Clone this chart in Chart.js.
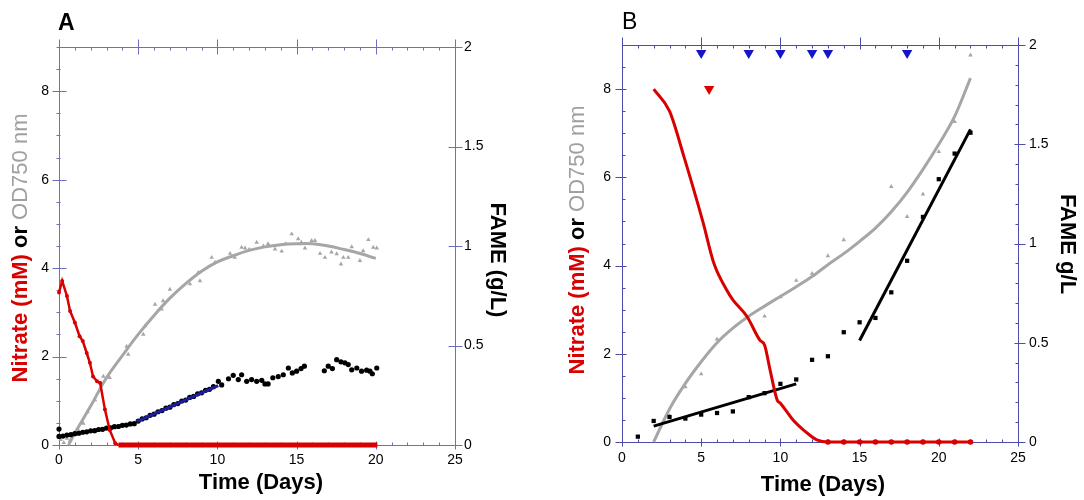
<!DOCTYPE html>
<html>
<head>
<meta charset="utf-8">
<script src="https://cdn.jsdelivr.net/npm/chart.js@4.4.0/dist/chart.umd.min.js"></script>
<style>
  html, body { margin: 0; padding: 0; background: #fff; }
  #wrap { position: relative; width: 1084px; height: 500px; }
  canvas { position: absolute; top: 0; }
  #chartA { left: 0; }
  #chartB { left: 542px; }
</style>
</head>
<body>
<div id="wrap">
  <canvas id="chartA" width="542" height="500"></canvas>
  <canvas id="chartB" width="542" height="500"></canvas>
</div>
<script>
// ---- Panel A ----
const daysA_nitrate = [0, 0.2, 0.5, 0.7, 1.0, 1.3, 1.5, 1.75, 1.95, 2.15, 2.4, 2.6, 2.9, 3.2, 3.55, 3.75, 5, 7.5, 10, 12.5, 15, 17.5, 20.1];
const nitrateA = [3.45, 3.71, 3.37, 3.03, 2.77, 2.46, 2.35, 2.08, 1.86, 1.55, 1.44, 1.40, 0.8, 0.34, 0.04, 0, 0, 0, 0, 0, 0, 0, 0];

const daysA_odFit = [0.6, 1, 2, 3, 4, 5, 6, 7, 8, 9, 10, 11, 12, 13, 14, 15, 16, 17, 18, 19, 20];
const odFitA = [0, 0.27, 0.88, 1.52, 2.02, 2.5, 2.93, 3.32, 3.65, 3.93, 4.14, 4.28, 4.4, 4.48, 4.53, 4.55, 4.55, 4.5, 4.42, 4.33, 4.22];

const daysA_od = [0.1, 0.3, 0.5, 0.7, 1.2, 1.53, 1.8, 2.27, 2.8, 3.2, 4.27, 4.37, 5.32, 5.43, 6.06, 6.48, 6.57, 7.0, 8.27, 8.79, 8.9, 9.64, 9.85,
  10.8, 11.1, 11.53, 11.75, 12.0, 12.48, 12.9, 13.2, 13.64, 14.06, 14.3, 14.69, 15.1, 15.3, 15.53, 15.95, 16.16, 16.48, 16.79,
  17.2, 17.53, 17.8, 17.95, 18.26, 18.48, 19.0, 19.2, 19.53, 19.84, 20.06];
const odA = [0.12, 0.05, 0.15, 0.1, 0.35, 0.49, 0.75, 1.02, 1.55, 1.52, 2.23, 2.05, 2.5, 2.69, 3.18, 3.07, 3.26, 3.52, 3.64, 3.9, 3.71, 4.24, 4.13,
  4.33, 4.24, 4.47, 4.45, 4.42, 4.58, 4.5, 4.55, 4.43, 4.38, 4.55, 4.77, 4.66, 4.58, 4.45, 4.62, 4.62, 4.33, 4.24,
  4.36, 4.32, 4.09, 4.24, 4.24, 4.48, 4.17, 4.39, 4.64, 4.47, 4.45];

const daysA_fame = [0, 0, 0.25, 0.5, 0.75, 1, 1.25, 1.5, 1.75, 2, 2.25, 2.5, 2.75, 3, 3.25, 3.5, 3.75, 4, 4.25, 4.5, 4.75,
  5, 5.25, 5.5, 5.75, 6, 6.25, 6.5, 6.75, 7, 7.25, 7.5, 7.75, 8, 8.25, 8.5, 8.75, 9, 9.25, 9.5, 9.75,
  10.06, 10.27, 10.7, 11.0, 11.32, 11.53, 11.85, 12.16, 12.48, 12.8, 13.0, 13.2, 13.5, 13.84, 14.16, 14.48, 14.73, 15.0, 15.28, 15.49,
  16.75, 17.0, 17.26, 17.53, 17.8, 18.05, 18.26, 18.48, 18.8, 19.1, 19.42, 19.63, 19.78, 20.06];
const fameA = [0.08, 0.043, 0.045, 0.05, 0.052, 0.057, 0.059, 0.064, 0.066, 0.071, 0.072, 0.078, 0.079, 0.085, 0.086, 0.092, 0.093, 0.099, 0.1, 0.106, 0.107,
  0.12, 0.131, 0.137, 0.149, 0.155, 0.167, 0.173, 0.185, 0.19, 0.203, 0.208, 0.221, 0.226, 0.239, 0.244, 0.257, 0.262, 0.275, 0.28, 0.293,
  0.32, 0.302, 0.333, 0.35, 0.329, 0.353, 0.32, 0.329, 0.32, 0.325, 0.307, 0.307, 0.338, 0.344, 0.353, 0.387, 0.362, 0.371, 0.384, 0.396,
  0.373, 0.396, 0.384, 0.429, 0.418, 0.413, 0.404, 0.378, 0.387, 0.371, 0.376, 0.371, 0.358, 0.387];

const daysA_fit1 = [0, 4.8];
const fameFitA1 = [0.042, 0.109];
const daysA_fit2 = [4.9, 10.05];
const fameFitA2 = [0.118, 0.298];

// ---- Panel B ----
const daysB_nitrate = [2, 3, 3.9, 5.1, 5.8, 6.6, 7.0, 7.9, 8.7, 9.0, 9.35, 9.8, 10.0, 10.8, 11.7, 12.3, 13, 14, 15, 16, 17, 18, 19, 20, 21, 22];
const nitrateB = [8.0, 7.5, 6.48, 5.0, 4.05, 3.45, 3.22, 2.84, 2.31, 2.2, 1.63, 0.95, 0.88, 0.5, 0.2, 0.05, 0, 0, 0, 0, 0, 0, 0, 0, 0, 0];

const daysB_odFit = [2, 3, 4, 5, 6, 7, 8, 9, 10, 11, 12, 13, 14, 15, 16, 17, 18, 19, 20, 21, 22];
const odFitB = [0, 0.75, 1.33, 1.82, 2.25, 2.58, 2.85, 3.08, 3.3, 3.52, 3.75, 4.02, 4.27, 4.55, 4.85, 5.22, 5.66, 6.18, 6.75, 7.38, 8.25];

const daysB_od = [3, 4, 5, 6, 9, 10, 11, 12, 13, 14, 17, 18, 19, 20, 21, 22];
const odB = [0.59, 1.25, 1.54, 2.33, 2.85, 3.29, 3.66, 3.82, 4.22, 4.58, 5.79, 5.11, 5.62, 6.58, 7.26, 8.77];

const daysB_fame = [1, 2, 3, 4, 5, 6, 7, 8, 9, 10, 11, 12, 13, 14, 15, 16, 17, 18, 19, 20, 21, 22];
const fameB = [0.027, 0.106, 0.126, 0.118, 0.138, 0.146, 0.154, 0.226, 0.246, 0.293, 0.315, 0.414, 0.432, 0.553, 0.603, 0.625, 0.754, 0.913, 1.134, 1.324, 1.453, 1.558];

const daysB_fit1 = [2, 11];
const fameFitB1 = [0.08, 0.293];
const daysB_fit2 = [15, 22];
const fameFitB2 = [0.511, 1.575];

const daysB_blueMarks = [5, 8, 10, 12, 13, 18];
const blueMarksB = [8.82, 8.82, 8.82, 8.82, 8.82, 8.82];
const daysB_redMark = [5.5];
const redMarkB = [8.0];

const FONT = "Arial, 'Liberation Sans', Helvetica, sans-serif";
const RED = '#d90000';
const GRAY = '#a6a6a6';

const pts = (xs, ys) => xs.map((x, i) => ({ x, y: ys[i] }));

// axis frame with major/minor tick marks, positioned from the chart's scales
const framePlugin = {
    id: 'frame',
    beforeDatasetsDraw(chart, args, o) {
        const { ctx, chartArea: a } = chart;
        const px = v => Math.round(v) + 0.5;
        const L = px(a.left), R = px(a.right), T = px(a.top), B = px(a.bottom);
        ctx.save();
        ctx.strokeStyle = o.color;
        ctx.lineWidth = 1;
        ctx.strokeRect(L, T, R - L, B - T);
        const line = (x1, y1, x2, y2) => { ctx.beginPath(); ctx.moveTo(x1, y1); ctx.lineTo(x2, y2); ctx.stroke(); };
        const marks = (side, scale, spec) => {
            if (!spec) return;
            const [step, lenIn, lenOut] = spec;
            const n = Math.floor((scale.max - scale.min) / step + 1e-6);
            for (let i = 0; i <= n; i++) {
                const p = px(scale.getPixelForValue(scale.min + i * step));
                if (side === 'bottom') line(p, B - lenIn, p, B + lenOut);
                if (side === 'top') line(p, T + lenIn, p, T - lenOut);
                if (side === 'left') line(L + lenIn, p, L - lenOut, p);
                if (side === 'right') line(R - lenIn, p, R + lenOut, p);
            }
        };
        const s = chart.scales;
        marks('bottom', s.x, o.bottom.minor); marks('bottom', s.x, o.bottom.major);
        marks('top', s.x, o.top.minor); marks('top', s.x, o.top.major);
        marks('left', s.y, o.left.minor); marks('left', s.y, o.left.major);
        marks('right', s.y1, o.right.minor); marks('right', s.y1, o.right.major);
        ctx.restore();
    }
};

// multi-coloured axis titles and panel letters
const titlesPlugin = {
    id: 'titles',
    afterDraw(chart, args, o) {
        const { ctx } = chart;
        o.items.forEach(item => {
            ctx.save();
            ctx.translate(item.x, item.y);
            ctx.rotate(item.rot || 0);
            ctx.textBaseline = 'middle';
            ctx.textAlign = 'left';
            let total = 0;
            const widths = item.parts.map(p => {
                ctx.font = p.font;
                const w = ctx.measureText(p.text).width;
                total += w;
                return w;
            });
            let cx = item.align === 'left' ? 0 : -total / 2;
            item.parts.forEach((p, i) => {
                ctx.font = p.font;
                ctx.fillStyle = p.color;
                ctx.fillText(p.text, cx, 0);
                cx += widths[i];
            });
            ctx.restore();
        });
    }
};

function makeOptions(cfg) {
    const tickFont = { family: FONT, size: 14 };
    return {
        responsive: false,
        animation: false,
        layout: { padding: { top: cfg.top, left: 0, right: 0, bottom: 0 } },
        elements: { point: { hoverRadius: 0, borderWidth: 0 } },
        plugins: {
            legend: { display: false },
            tooltip: { enabled: false },
            frame: cfg.frame,
            titles: { items: cfg.titles },
        },
        scales: {
            x: {
                type: 'linear', position: 'bottom', min: 0, max: 25,
                grid: { display: false, drawTicks: false }, border: { display: false },
                ticks: { stepSize: 5, padding: cfg.xPad, color: '#000', font: tickFont, maxRotation: 0 },
                afterFit: s => { s.height = cfg.bottom; },
            },
            y: {
                type: 'linear', position: 'left', min: 0, max: 9,
                grid: { display: false, drawTicks: false }, border: { display: false },
                ticks: { stepSize: 2, includeBounds: false, padding: cfg.yPad, color: '#000', font: tickFont },
                afterFit: s => { s.width = cfg.left; },
            },
            y1: {
                type: 'linear', position: 'right', min: 0, max: 2,
                grid: { display: false, drawTicks: false }, border: { display: false },
                ticks: { stepSize: 0.5, padding: cfg.y1Pad, color: '#000', font: tickFont, callback: v => String(v) },
                afterFit: s => { s.width = cfg.right; },
            },
        },
    };
}

const boldT = `bold 22px ${FONT}`;
const normT = `22px ${FONT}`;

// ---- Chart A ----
new Chart(document.getElementById('chartA'), {
    type: 'scatter',
    data: {
        datasets: [
            {
                data: pts(daysA_nitrate, nitrateA), yAxisID: 'y', showLine: true,
                borderColor: RED, backgroundColor: RED, borderWidth: 2.5, pointBorderWidth: 0,
                pointRadius: ctx => (ctx.raw && ctx.raw.y === 0 ? 0 : 2),
                segment: { borderWidth: ctx => (ctx.p0.parsed.y === 0 && ctx.p1.parsed.y === 0 ? 5 : 2.5) },
                clip: false,
            },
            {
                data: pts(daysA_fit2, fameFitA2), yAxisID: 'y1', showLine: true,
                borderColor: '#1c1c9c', borderWidth: 3, pointRadius: 0, clip: false,
            },
            {
                data: pts(daysA_fame, fameA), yAxisID: 'y1',
                backgroundColor: '#000', borderColor: '#000', pointRadius: 2.6, pointBorderWidth: 0, clip: false,
            },
            {
                data: pts(daysA_fit1, fameFitA1), yAxisID: 'y1', showLine: true,
                borderColor: '#000', borderWidth: 3, pointRadius: 0, clip: false,
            },
            {
                data: pts(daysA_od, odA), yAxisID: 'y', pointStyle: 'triangle',
                backgroundColor: GRAY, borderColor: GRAY, pointRadius: 2.6, pointBorderWidth: 0, clip: false,
            },
            {
                data: pts(daysA_odFit, odFitA), yAxisID: 'y', showLine: true,
                borderColor: GRAY, borderWidth: 3, pointRadius: 0, tension: 0.4, clip: false,
            },
        ],
    },
    options: makeOptions({
        top: 47, bottom: 55, left: 59, right: 87, xPad: 7, yPad: 10, y1Pad: 9,
        frame: {
            color: '#6f6fc0',
            bottom: { minor: [1, 3, 0], major: [5, 4, 4] },
            top: { minor: [1, 3, 0], major: [5, 7, 8] },
            left: { minor: [0.5, 1, 3], major: [2, 7, 7] },
            right: { minor: null, major: [0.5, 7, 7] },
        },
        titles: [
            { x: 58, y: 24, align: 'left', parts: [{ text: 'A', font: `bold 23px ${FONT}`, color: '#000' }] },
            { x: 261, y: 483, parts: [{ text: 'Time (Days)', font: boldT, color: '#000' }] },
            { x: 21, y: 248, rot: -Math.PI / 2, parts: [
                { text: 'Nitrate (mM) ', font: boldT, color: RED },
                { text: 'or ', font: boldT, color: '#000' },
                { text: 'OD750 nm', font: normT, color: '#a0a0a0' },
            ] },
            { x: 497, y: 260, rot: Math.PI / 2, parts: [{ text: 'FAME (g/L)', font: boldT, color: '#000' }] },
        ],
    }),
    plugins: [framePlugin, titlesPlugin],
});

// ---- Chart B ----
new Chart(document.getElementById('chartB'), {
    type: 'scatter',
    data: {
        datasets: [
            {
                data: pts(daysB_blueMarks, blueMarksB), yAxisID: 'y', pointStyle: 'triangle', rotation: 180,
                backgroundColor: '#1414c8', borderColor: '#1414c8', pointRadius: 6, pointBorderWidth: 0, clip: false,
            },
            {
                data: pts(daysB_redMark, redMarkB), yAxisID: 'y', pointStyle: 'triangle', rotation: 180,
                backgroundColor: '#e00000', borderColor: '#e00000', pointRadius: 6, pointBorderWidth: 0, clip: false,
            },
            {
                data: pts(daysB_nitrate, nitrateB), yAxisID: 'y', showLine: true,
                borderColor: RED, backgroundColor: RED, borderWidth: 3, pointBorderWidth: 0,
                cubicInterpolationMode: 'monotone',
                pointRadius: ctx => (ctx.raw && ctx.raw.y === 0 ? 2.8 : 0),
                clip: false,
            },
            {
                data: pts(daysB_fit1, fameFitB1), yAxisID: 'y1', showLine: true,
                borderColor: '#000', borderWidth: 3, pointRadius: 0, clip: false,
            },
            {
                data: pts(daysB_fit2, fameFitB2), yAxisID: 'y1', showLine: true,
                borderColor: '#000', borderWidth: 3, pointRadius: 0, clip: false,
            },
            {
                data: pts(daysB_fame, fameB), yAxisID: 'y1', pointStyle: 'rect',
                backgroundColor: '#000', borderColor: '#000', pointRadius: 3, pointBorderWidth: 0, clip: false,
            },
            {
                data: pts(daysB_od, odB), yAxisID: 'y', pointStyle: 'triangle',
                backgroundColor: GRAY, borderColor: GRAY, pointRadius: 2.6, pointBorderWidth: 0, clip: false,
            },
            {
                data: pts(daysB_odFit, odFitB), yAxisID: 'y', showLine: true,
                borderColor: GRAY, borderWidth: 3, pointRadius: 0, cubicInterpolationMode: 'monotone', clip: false,
            },
        ],
    },
    options: makeOptions({
        top: 45, bottom: 58, left: 80, right: 66, xPad: 8, yPad: 11, y1Pad: 11,
        frame: {
            color: '#4c4cac',
            bottom: { minor: [1, 3, 0], major: [5, 4, 4] },
            top: { minor: [1, 3, 0], major: [5, 4, 8] },
            left: { minor: [0.5, 3, 0], major: [2, 4, 7] },
            right: { minor: [0.1, 3, 0], major: [0.5, 4, 7] },
        },
        titles: [
            { x: 80, y: 23, align: 'left', parts: [{ text: 'B', font: `23px ${FONT}`, color: '#000' }] },
            { x: 281, y: 485, parts: [{ text: 'Time (Days)', font: boldT, color: '#000' }] },
            { x: 36, y: 240, rot: -Math.PI / 2, parts: [
                { text: 'Nitrate (mM) ', font: boldT, color: RED },
                { text: 'or ', font: boldT, color: '#000' },
                { text: 'OD750 nm', font: normT, color: '#a0a0a0' },
            ] },
            { x: 525, y: 244, rot: Math.PI / 2, parts: [{ text: 'FAME g/L', font: boldT, color: '#000' }] },
        ],
    }),
    plugins: [framePlugin, titlesPlugin],
});
</script>
</body>
</html>
